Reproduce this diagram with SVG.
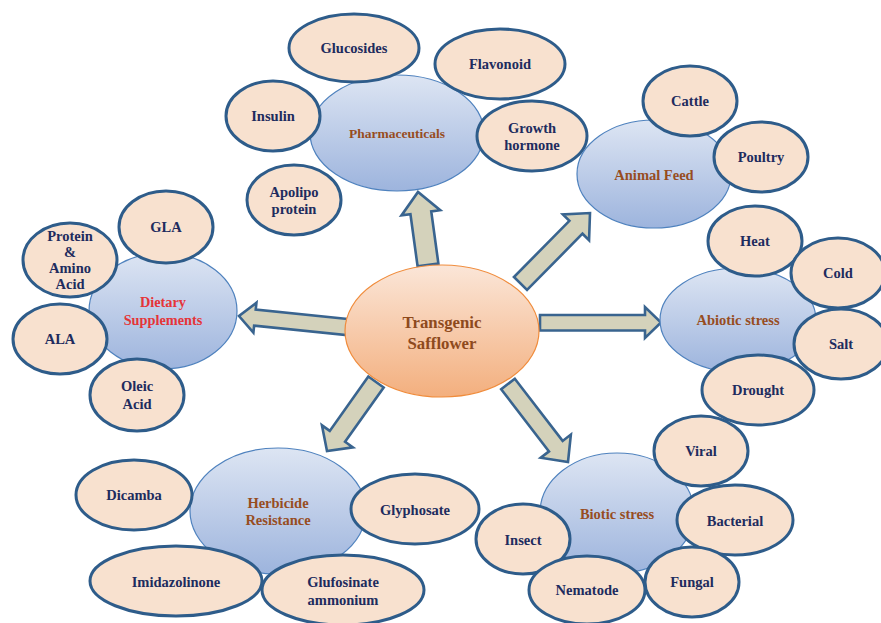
<svg xmlns="http://www.w3.org/2000/svg" width="881" height="623" viewBox="0 0 881 623">
<defs>
<linearGradient id="gBlue" x1="0" y1="0" x2="0" y2="1">
<stop offset="0" stop-color="#DDE5F3"/>
<stop offset="1" stop-color="#9DB4DD"/>
</linearGradient>
<linearGradient id="gOrange" x1="0" y1="0" x2="0" y2="1">
<stop offset="0" stop-color="#FBE6D8"/>
<stop offset="1" stop-color="#F3AF7E"/>
</linearGradient>
<style>
.leaf{fill:#F8E1CF;stroke:#2E5C8A;stroke-width:3}
.cat{fill:url(#gBlue);stroke:#4F82BE;stroke-width:1.2}
.hub{fill:url(#gOrange);stroke:#F08C3C;stroke-width:1.2}
.arrow{fill:#D4D2BB;stroke:#39648F;stroke-width:2.6;stroke-linejoin:miter}
text{font-family:"Liberation Serif","Times New Roman",serif;font-weight:bold;text-anchor:middle}
.lt{font-size:14.5px;fill:#202B5E}
.ct{font-size:14.5px;fill:#974D1F}
.ph{font-size:13.5px;fill:#974D1F}
.red{font-size:14.3px;fill:#E53438}
.ht{font-size:16.8px;fill:#8E4A1D}
</style>
</defs>
<rect width="881" height="623" fill="#FFFFFF"/>
<g id="connectors">
<polygon class="arrow" points="438.4,263.6 431.25,211.4 440.2,210.2 418,192 401.5,215.4 410.45,214.2 417.6,266.4"/>
<polygon class="arrow" points="527.05,289.96 582.5,233.7 589.06,240.17 590,213 562.86,214.33 569.4,220.8 513.95,277.04"/>
<polygon class="arrow" points="540,315 645,315 645,307 661,322.5 645,338 645,330.5 540,330.5"/>
<polygon class="arrow" points="347.81,319.04 255.73,309.66 256.44,302.7 239,316 253.4,332.54 254.11,325.58 346.19,334.96"/>
<polygon class="arrow" points="368.34,376.56 329.76,430.88 321.93,425.32 327,451 352.91,447.32 345.08,441.76 383.66,387.44"/>
<polygon class="arrow" points="501.18,389.24 548.99,451.39 540.75,457.73 568,462 570.87,434.57 562.63,440.91 514.82,378.76"/>
</g>
<g id="hub">
<ellipse class="hub" cx="442" cy="331" rx="97" ry="66"/>
<text class="ht" x="442" y="328">Transgenic</text>
<text class="ht" x="442" y="349">Safflower</text>
</g>
<g id="pharmaceuticals">
<ellipse class="cat" cx="397" cy="133" rx="87" ry="58"/>
<text class="ph" x="397" y="138">Pharmaceuticals</text>
</g>
<g id="glucosides"><ellipse class="leaf" cx="354" cy="48" rx="65" ry="34"/><text class="lt" x="354" y="53">Glucosides</text></g>
<g id="flavonoid"><ellipse class="leaf" cx="500" cy="64" rx="65" ry="35"/><text class="lt" x="500" y="69">Flavonoid</text></g>
<g id="insulin"><ellipse class="leaf" cx="273" cy="116" rx="47" ry="35"/><text class="lt" x="273" y="121">Insulin</text></g>
<g id="growth-hormone"><ellipse class="leaf" cx="532" cy="136" rx="55" ry="35"/><text class="lt" x="532" y="133">Growth</text><text class="lt" x="532" y="150">hormone</text></g>
<g id="apolipoprotein"><ellipse class="leaf" cx="294" cy="200" rx="47" ry="35"/><text class="lt" x="294" y="197">Apolipo</text><text class="lt" x="294" y="214">protein</text></g>

<g id="animal-feed">
<ellipse class="cat" cx="654" cy="174" rx="77" ry="54"/>
<text class="ct" x="654" y="180">Animal Feed</text>
</g>
<g id="cattle"><ellipse class="leaf" cx="690" cy="101" rx="47" ry="35"/><text class="lt" x="690" y="106">Cattle</text></g>
<g id="poultry"><ellipse class="leaf" cx="761" cy="157" rx="47" ry="35"/><text class="lt" x="761" y="162">Poultry</text></g>

<g id="abiotic-stress">
<ellipse class="cat" cx="738" cy="320" rx="78" ry="52"/>
<text class="ct" x="738" y="325">Abiotic stress</text>
</g>
<g id="heat"><ellipse class="leaf" cx="755" cy="241" rx="47" ry="35"/><text class="lt" x="755" y="246">Heat</text></g>
<g id="cold"><ellipse class="leaf" cx="838" cy="273" rx="47" ry="35"/><text class="lt" x="838" y="278">Cold</text></g>
<g id="salt"><ellipse class="leaf" cx="841" cy="344" rx="47" ry="35"/><text class="lt" x="841" y="349">Salt</text></g>
<g id="drought"><ellipse class="leaf" cx="758" cy="390" rx="56" ry="35"/><text class="lt" x="758" y="395">Drought</text></g>

<g id="dietary-supplements">
<ellipse class="cat" cx="163" cy="311" rx="74" ry="58"/>
<text class="red" x="163" y="307">Dietary</text>
<text class="red" x="163" y="325">Supplements</text>
</g>
<g id="gla"><ellipse class="leaf" cx="166" cy="227" rx="47" ry="36"/><text class="lt" x="166" y="232">GLA</text></g>
<g id="protein-amino-acid"><ellipse class="leaf" cx="70" cy="260" rx="47" ry="37"/><text class="lt" x="70" y="241">Protein</text><text class="lt" x="70" y="257">&amp;</text><text class="lt" x="70" y="273">Amino</text><text class="lt" x="70" y="289">Acid</text></g>
<g id="ala"><ellipse class="leaf" cx="60" cy="339" rx="47" ry="35"/><text class="lt" x="60" y="344">ALA</text></g>
<g id="oleic-acid"><ellipse class="leaf" cx="137" cy="395" rx="47" ry="36"/><text class="lt" x="137" y="391">Oleic</text><text class="lt" x="137" y="409">Acid</text></g>

<g id="herbicide-resistance">
<ellipse class="cat" cx="278" cy="511" rx="88" ry="63"/>
<text class="ct" x="278" y="508">Herbicide</text>
<text class="ct" x="278" y="525">Resistance</text>
</g>
<g id="dicamba"><ellipse class="leaf" cx="134" cy="495" rx="58" ry="35"/><text class="lt" x="134" y="500">Dicamba</text></g>
<g id="glyphosate"><ellipse class="leaf" cx="415" cy="509" rx="64" ry="35"/><text class="lt" x="415" y="515">Glyphosate</text></g>
<g id="imidazolinone"><ellipse class="leaf" cx="176" cy="581" rx="86" ry="35"/><text class="lt" x="176" y="587">Imidazolinone</text></g>
<g id="glufosinate-ammonium"><ellipse class="leaf" cx="343" cy="590" rx="81" ry="35"/><text class="lt" x="343" y="587">Glufosinate</text><text class="lt" x="343" y="605">ammonium</text></g>

<g id="biotic-stress">
<ellipse class="cat" cx="617" cy="513" rx="77" ry="60"/>
<text class="ct" x="617" y="519">Biotic stress</text>
</g>
<g id="viral"><ellipse class="leaf" cx="701" cy="451" rx="47" ry="35"/><text class="lt" x="701" y="456">Viral</text></g>
<g id="bacterial"><ellipse class="leaf" cx="735" cy="520" rx="58" ry="35"/><text class="lt" x="735" y="526">Bacterial</text></g>
<g id="insect"><ellipse class="leaf" cx="523" cy="539" rx="47" ry="35"/><text class="lt" x="523" y="545">Insect</text></g>
<g id="nematode"><ellipse class="leaf" cx="587" cy="590" rx="58" ry="34"/><text class="lt" x="587" y="595">Nematode</text></g>
<g id="fungal"><ellipse class="leaf" cx="692" cy="582" rx="47" ry="35"/><text class="lt" x="692" y="587">Fungal</text></g>
</svg>
